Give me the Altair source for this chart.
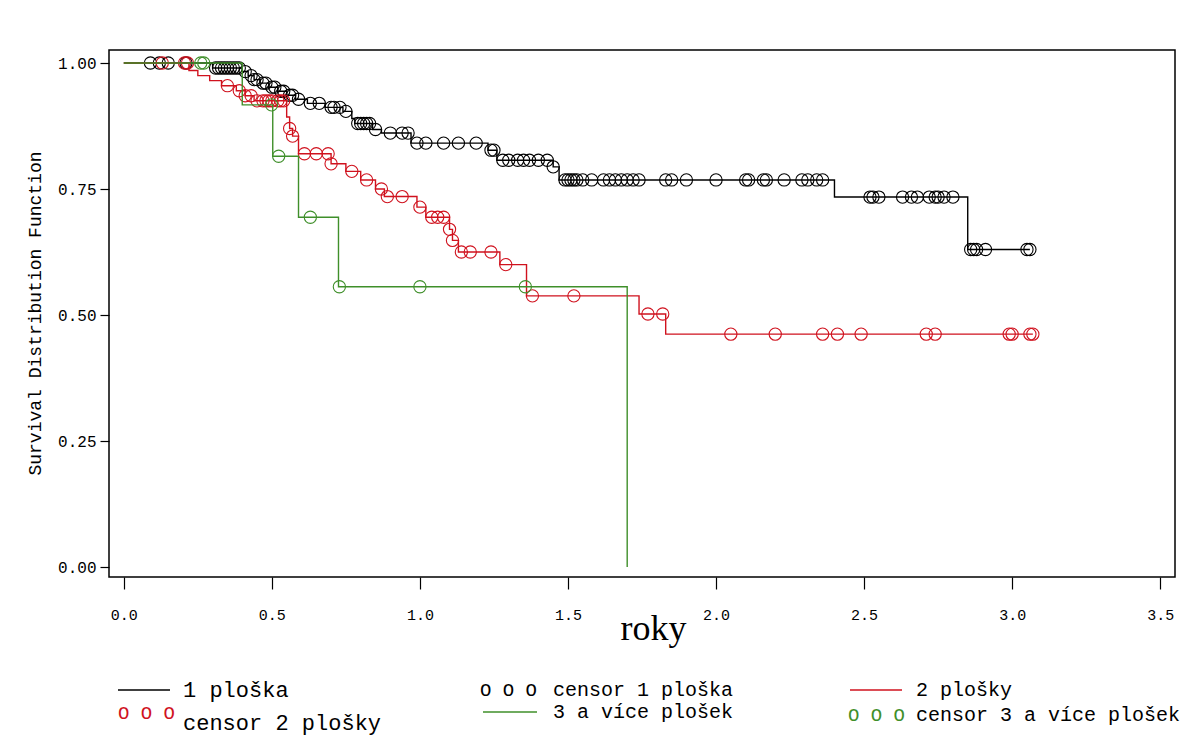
import altair as alt
import pandas as pd

# ---------------- data ----------------
# group "1 ploška" (black)
black_step_t = [0.30, 0.40, 0.42, 0.44, 0.46, 0.49, 0.52, 0.55, 0.58, 0.62, 0.68, 0.74,
                0.77, 0.78, 0.84, 0.87, 0.97, 1.23, 1.26, 1.45, 1.47, 2.40, 2.85]
black_step_s = [0.990, 0.983, 0.975, 0.967, 0.960, 0.952, 0.944, 0.936, 0.928, 0.920, 0.912, 0.904,
                0.890, 0.880, 0.868, 0.861, 0.841, 0.827, 0.807, 0.794, 0.768, 0.734, 0.630]
black_censor_t = [0.09, 0.12, 0.15, 0.21,
                  0.31, 0.32, 0.33, 0.34, 0.35, 0.36, 0.37, 0.38, 0.39,
                  0.41, 0.43, 0.44, 0.45, 0.47, 0.48, 0.50, 0.51, 0.53, 0.54, 0.56, 0.57,
                  0.59, 0.63, 0.66, 0.70, 0.71, 0.73, 0.75,
                  0.79, 0.80, 0.81, 0.82, 0.83, 0.85,
                  0.90, 0.94, 0.96, 0.99, 1.02, 1.08, 1.13, 1.19,
                  1.24, 1.25,
                  1.28, 1.30, 1.33, 1.35, 1.37, 1.40, 1.43, 1.45,
                  1.49, 1.50, 1.51, 1.52, 1.53, 1.55, 1.58, 1.62, 1.64, 1.66, 1.68, 1.70, 1.72, 1.74,
                  1.83, 1.85, 1.90, 2.00, 2.10, 2.11, 2.16, 2.17, 2.23, 2.29, 2.31, 2.34, 2.36,
                  2.52, 2.53, 2.55, 2.63, 2.66, 2.68, 2.72, 2.74, 2.75, 2.77, 2.80,
                  2.86, 2.87, 2.88, 2.91, 3.05, 3.06]

# group "2 plošky" (red)
red_step_t = [0.22, 0.25, 0.29, 0.33, 0.38, 0.41, 0.44, 0.55, 0.56, 0.57, 0.59, 0.70,
              0.75, 0.80, 0.85, 0.88, 0.99, 1.02, 1.10, 1.11, 1.13, 1.27, 1.36, 1.74, 1.83]
red_step_s = [0.985, 0.975, 0.965, 0.955, 0.945, 0.935, 0.925, 0.893, 0.870, 0.855, 0.820, 0.800,
              0.785, 0.768, 0.750, 0.735, 0.714, 0.694, 0.670, 0.648, 0.625, 0.600, 0.538, 0.502, 0.462]
red_censor_t = [0.13, 0.205, 0.215,
                0.35, 0.39, 0.41, 0.43,
                0.45, 0.47, 0.48, 0.49, 0.50, 0.52, 0.53, 0.54,
                0.56, 0.57, 0.61, 0.65, 0.69, 0.70,
                0.77, 0.82, 0.87, 0.89, 0.94, 1.00, 1.04, 1.06, 1.08, 1.10,
                1.11, 1.14, 1.17, 1.24, 1.29, 1.38, 1.52, 1.77, 1.82,
                2.05, 2.20, 2.36, 2.41, 2.49, 2.71, 2.74, 2.99, 3.00, 3.06, 3.07]

# group "3 a více plošek" (green)
green_step_t = [0.40, 0.503, 0.59, 0.725, 1.70]
green_step_s = [0.917, 0.815, 0.694, 0.556, 0.0]
green_censor_t = [0.26, 0.27, 0.499, 0.523, 0.63, 0.728, 1.00, 1.356]

groups = ["1 ploška", "2 plošky", "3 a více plošek"]
colors = ["#000000", "#d0121e", "#3f8f2a"]

# ---------------- tables ----------------
def level(t, st, ss):
    s = 1.0
    for a, b in zip(st, ss):
        if t >= a:
            s = b
    return s

line_rows, pt_rows = [], []
for g, st, ss, ct in [(groups[0], black_step_t, black_step_s, black_censor_t),
                      (groups[1], red_step_t, red_step_s, red_censor_t),
                      (groups[2], green_step_t, green_step_s, green_censor_t)]:
    end = max(ct + st)
    ts = [0.0] + st + [end]
    ss2 = [1.0] + ss + [ss[-1]]
    for i, (a, b) in enumerate(zip(ts, ss2)):
        line_rows.append({"g": g, "t": a, "s": b, "o": i})
    for c in ct:
        pt_rows.append({"g": g, "t": c, "s": level(c, st, ss)})
lines = pd.DataFrame(line_rows)
pts = pd.DataFrame(pt_rows)

W, H = 1066, 527
L, T = 109, 50

xenc = alt.X("t:Q", scale=alt.Scale(domain=[-0.05, 3.55], nice=False, zero=False),
             axis=alt.Axis(values=[0, 0.5, 1, 1.5, 2, 2.5, 3, 3.5], format=".1f", title="roky",
                           titleX=544, titleY=62, titleBaseline="alphabetic", titleAlign="center",
                           titleFont="Liberation Serif", titleFontSize=36, titleFontWeight="normal",
                           labelFont="Liberation Mono", labelFontSize=15, labelPadding=18,
                           tickSize=12, tickWidth=1.2, tickColor="black", labelColor="black",
                           titleColor="black", domain=False, grid=False))
yenc = alt.Y("s:Q", scale=alt.Scale(domain=[-0.0198, 1.0258], nice=False, zero=False),
             axis=alt.Axis(values=[0, 0.25, 0.5, 0.75, 1.0], format=".2f",
                           title="Survival Distribution Function",
                           titleX=-74, titleY=263, titleBaseline="middle", titleAlign="center",
                           titleAngle=270,
                           titleFont="Liberation Mono", titleFontSize=18, titleFontWeight="normal",
                           labelFont="Liberation Mono", labelFontSize=16, labelPadding=4,
                           tickSize=9, tickWidth=1.2, tickColor="black", labelColor="black",
                           titleColor="black", domain=False, grid=False))

layers = []
for g, c in zip(groups, colors):
    layers.append(alt.Chart(lines[lines.g == g]).mark_line(
        interpolate="step-after", color=c, strokeWidth=1.4).encode(x=xenc, y=yenc, order="o:Q"))
    layers.append(alt.Chart(pts[pts.g == g]).mark_point(
        shape="circle", filled=False, size=150, strokeWidth=1.1, color=c, opacity=1).encode(x=xenc, y=yenc))

# ---------------- manual legend (below the plot) ----------------
one = pd.DataFrame({"k": [0]})

def ltext(label, px, py, size=20):
    return alt.Chart(one).mark_text(text=label, align="left", baseline="middle",
                                    font="Liberation Mono", fontSize=size, color="black").encode(
        x=alt.value(px - L), y=alt.value(py - T))

def lline(color, x1, x2, py):
    return alt.Chart(one).mark_rule(color=color, strokeWidth=1.6).encode(
        x=alt.value(x1 - L), x2=alt.value(x2 - L), y=alt.value(py - T))

def lcirc(color, px, py):
    return alt.Chart(one).mark_text(text="O O O", align="left", baseline="middle",
                                    font="Liberation Mono", fontSize=19, color=color).encode(
        x=alt.value(px - L), y=alt.value(py - T))

legend = [
    lline(colors[0], 118, 170, 690), ltext("1 ploška", 183, 690, 22),
    lcirc(colors[0], 480, 690), ltext("censor 1 ploška", 553, 690),
    lline(colors[1], 850, 902, 690), ltext("2 plošky", 916, 690),
    lcirc(colors[1], 118, 713), ltext("censor 2 plošky", 183, 723, 22),
    lline(colors[2], 483, 537, 712), ltext("3 a více plošek", 553, 712),
    lcirc(colors[2], 848, 715), ltext("censor 3 a více plošek", 916, 715),
]

chart = alt.layer(*layers, *legend).properties(
    width=W, height=H,
    autosize=alt.AutoSizeParams(type="none"),
    padding={"left": L, "top": T, "right": 1180 - L - W, "bottom": 748 - T - H},
    background="white",
).configure_view(stroke="black", strokeWidth=1.5)

chart.save("out.html", embed_options={"renderer": "svg", "actions": False})
